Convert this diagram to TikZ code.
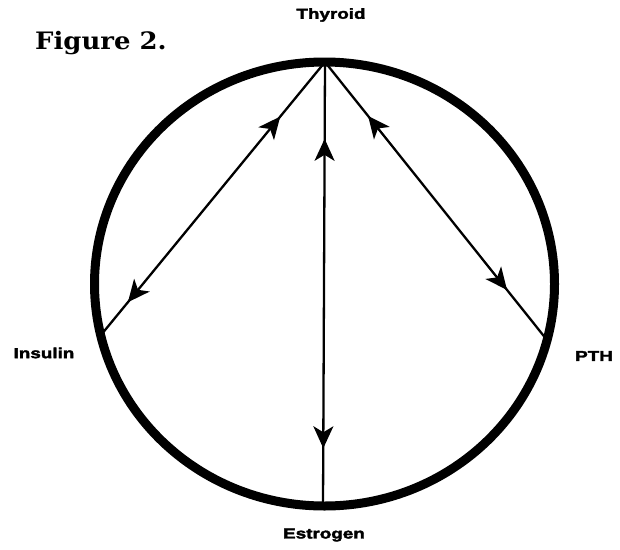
\documentclass[tikz,border=0pt]{standalone}
\usepackage{fontspec}
\usetikzlibrary{arrows.meta,decorations.markings}
\newfontfamily\lblfont[FakeStretch=1.3,BoldFeatures={FakeBold=2.5}]{Liberation Sans}
\newfontfamily\figfont[FakeStretch=1.08]{DejaVu Serif}
\tikzset{bigtip/.tip={Stealth[length=22pt,width=20pt,inset=6pt]}}
\begin{document}
\begin{tikzpicture}[x=1pt,y=-1pt,
  lbl/.style={font=\lblfont\bfseries\fontsize{14.5}{14.5}\selectfont, inner sep=0pt},
  ring/.style={line width=9pt},
  link/.style 2 args={line width=2.3pt,
    decoration={markings,
      mark=at position #1 with {\arrowreversed[scale=1]{bigtip}},
      mark=at position #2 with {\arrow[scale=1]{bigtip}}},
    postaction={decorate}}]
\useasboundingbox (0,0) rectangle (620,549);
\coordinate (C) at (324.5,284);
\coordinate (T) at (325,62);
\coordinate (I) at (101,335);
\coordinate (P) at (547,340);
\coordinate (E) at (323,506);
\draw[link={0.2}{0.88}] (T) -- (I);
\draw[link={0.173}{0.87}] (T) -- (E);
\draw[link={0.194}{0.82}] (T) -- (P);
\draw[ring] (C) ellipse [x radius=230pt, y radius=222pt];
\node[lbl] (thyroid) at (331,15) {Thyroid};
\node[lbl] (estrogen) at (324,535) {Estrogen};
\node[lbl] (insulin) at (44,353) {Insulin};
\node[lbl] (pth) at (594,356) {PTH};
\node[font=\figfont\bfseries\fontsize{24}{24}\selectfont, anchor=base west, inner sep=0pt] (fig) at (35,49) {Figure 2.};
\end{tikzpicture}
\end{document}
